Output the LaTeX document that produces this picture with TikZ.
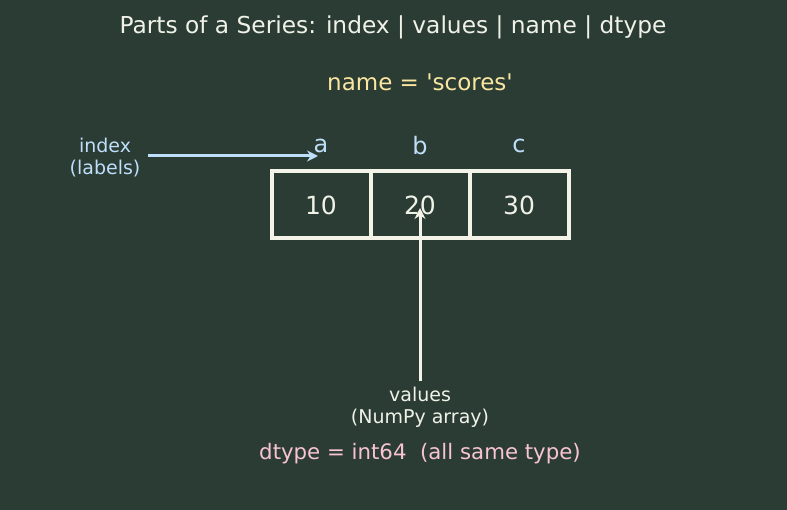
\documentclass[tikz,border=0pt]{standalone}
\usepackage{fontspec}
\setmainfont{DejaVu Sans}
\usetikzlibrary{positioning, arrows.meta}
\definecolor{cBg}{RGB}{43,60,52}
\definecolor{cTitle}{RGB}{240,242,232}
\definecolor{cName}{RGB}{250,230,160}
\definecolor{cIdx}{RGB}{190,222,250}
\definecolor{cBox}{RGB}{244,243,232}
\definecolor{cType}{RGB}{248,196,212}

\begin{document}
\begin{tikzpicture}[x=1pt, y=-1pt,
                    cell/.style={draw=cBox, line width=4pt, minimum width=99pt, minimum height=67pt,
                                 text=cTitle, font=\fontsize{25}{25}\selectfont, inner sep=0pt},
                    lbl/.style={text=cIdx, font=\fontsize{24}{24}\selectfont},
                    note/.style={align=center, font=\fontsize{19}{22}\selectfont}]

    % Background
    \fill[cBg] (0,0) rectangle (787,510);
    \useasboundingbox (0,0) rectangle (787,510);

    % Nodes
    \node[text=cTitle, font=\fontsize{23.3}{23}\selectfont] (title) at (393,27) {Parts of a Series: index | values | name | dtype};
    \node[text=cName, font=\fontsize{23}{23}\selectfont] (name) at (420,82) {name = \textquotesingle scores\textquotesingle};

    \node[cell] (v10) at (321,205) {10};
    \node[cell] (v20) at (420,205) {20};
    \node[cell] (v30) at (519,205) {30};

    \node[lbl] (la) at (321,146) {a};
    \node[lbl] (lb) at (420,146) {b};
    \node[lbl] (lc) at (519,146) {c};

    \node[note, text=cIdx] (index) at (105,158) {index\\(labels)};
    \node[note, text=cTitle] (values) at (420,407) {values\\(NumPy array)};
    \node[text=cType, font=\fontsize{21.3}{21}\selectfont] (dtype) at (420,454) {dtype = int64\ \ (all same type)};

    \coordinate (idxtip) at (318,156);
    \coordinate (valtip) at (420,208);

    % Arrows
    \draw[-{Stealth[length=11pt, width=11pt]}, cIdx, line width=3pt] (index.east |- idxtip) ++(4,0) -- (idxtip);
    \draw[-{Stealth[length=11pt, width=11pt]}, cBox, line width=3pt] (values.north) ++(0,-2) -- (valtip);

\end{tikzpicture}
\end{document}
